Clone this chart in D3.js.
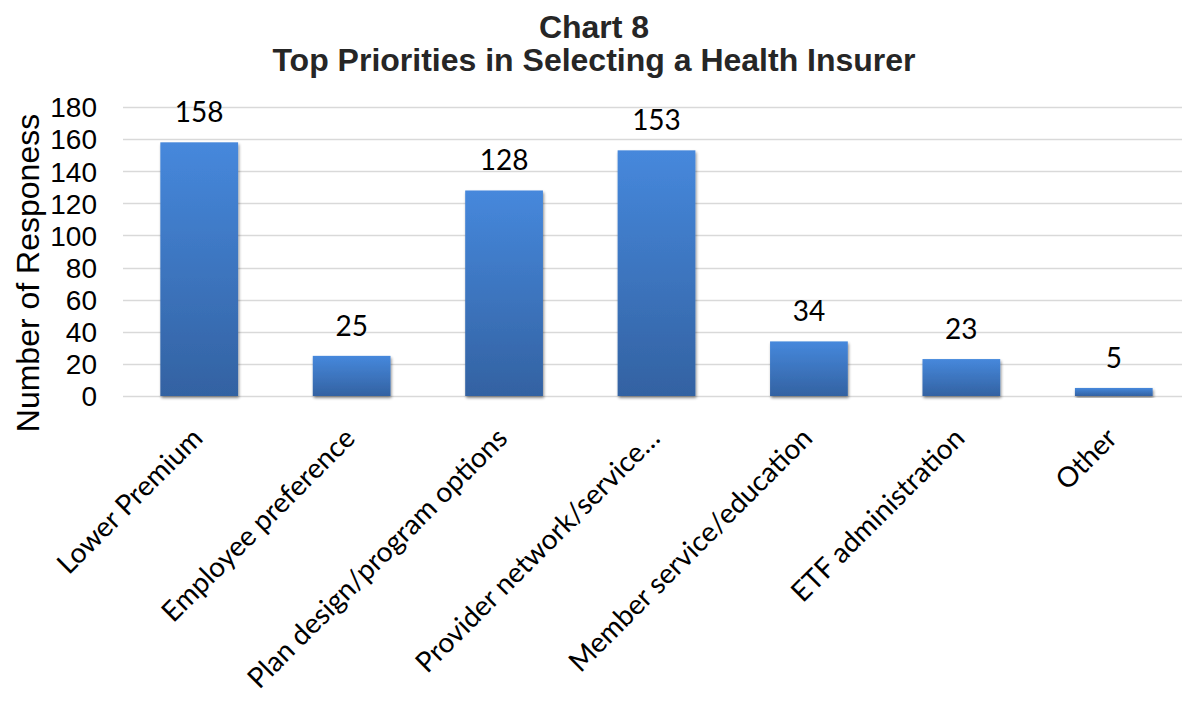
<!DOCTYPE html>
<html>
<head>
<meta charset="utf-8">
<script src="https://cdn.jsdelivr.net/npm/d3@7"></script>
<style>
  html, body { margin: 0; padding: 0; background: #fff; }
  svg { display: block; }
</style>
</head>
<body>
<svg id="chart" width="1182" height="702"></svg>
<script>
// Survey responses: top priorities when selecting a health insurer
const categories = [
  "Lower Premium",
  "Employee preference",
  "Plan design/program options",
  "Provider network/service…",
  "Member service/education",
  "ETF administration",
  "Other"
];
const responses = [158, 25, 128, 153, 34, 23, 5];
const yTicks = [0, 20, 40, 60, 80, 100, 120, 140, 160, 180];

const titleLines = ["Chart 8", "Top Priorities in Selecting a Health Insurer"];
const yAxisTitle = "Number of Responess";

const data = categories.map((c, i) => ({ category: c, value: responses[i] }));

const svg = d3.select("#chart");
const W = 1182, H = 702;
const plot = { left: 123, right: 1190, top: 107, bottom: 396 };

const x = d3.scaleBand()
  .domain(categories)
  .range([plot.left, plot.right])
  .paddingInner(0.49)
  .paddingOuter(0.245);

const y = d3.scaleLinear()
  .domain([0, 180])
  .range([plot.bottom, plot.top]);

// Defs: vertical gradient for bars and a soft shadow
const defs = svg.append("defs");
const grad = defs.append("linearGradient")
  .attr("id", "barGrad")
  .attr("x1", 0).attr("y1", 0).attr("x2", 0).attr("y2", 1);
grad.append("stop").attr("offset", "0%").attr("stop-color", "#4688dc");
grad.append("stop").attr("offset", "100%").attr("stop-color", "#3362a2");

const shadow = defs.append("filter")
  .attr("id", "barShadow")
  .attr("x", "-20%").attr("y", "-20%").attr("width", "140%").attr("height", "140%");
shadow.append("feGaussianBlur").attr("in", "SourceAlpha").attr("stdDeviation", 1.6).attr("result", "blur");
shadow.append("feOffset").attr("in", "blur").attr("dx", 0.5).attr("dy", 1.5).attr("result", "off");
shadow.append("feComponentTransfer").attr("in", "off").attr("result", "soft")
  .append("feFuncA").attr("type", "linear").attr("slope", 0.45);
const merge = shadow.append("feMerge");
merge.append("feMergeNode").attr("in", "soft");
merge.append("feMergeNode").attr("in", "SourceGraphic");

// Horizontal gridlines
svg.append("g")
  .selectAll("line")
  .data(yTicks)
  .join("line")
  .attr("x1", plot.left)
  .attr("x2", W)
  .attr("y1", d => Math.round(y(d)) + 0.5)
  .attr("y2", d => Math.round(y(d)) + 0.5)
  .attr("stroke", "#d9d9d9")
  .attr("stroke-width", 1.6);

// Y axis tick labels
const yAxis = d3.axisLeft(y).tickValues(yTicks).tickSize(0).tickPadding(0);
const yG = svg.append("g")
  .attr("transform", `translate(${97},0)`)
  .call(yAxis);
yG.select(".domain").remove();
yG.selectAll("text")
  .attr("font-family", "'Liberation Sans', Arial, sans-serif")
  .attr("font-size", 28)
  .attr("fill", "#000")
  .attr("dy", "0.35em");

// Y axis title
svg.append("text")
  .attr("transform", `translate(${39},${273}) rotate(-90)`)
  .attr("text-anchor", "middle")
  .attr("font-family", "'Liberation Sans', Arial, sans-serif")
  .attr("font-size", 32)
  .attr("fill", "#000")
  .text(yAxisTitle);

// Bars
svg.append("g")
  .selectAll("rect")
  .data(data)
  .join("rect")
  .attr("x", d => x(d.category))
  .attr("y", d => y(d.value))
  .attr("width", x.bandwidth())
  .attr("height", d => y(0) - y(d.value))
  .attr("fill", "url(#barGrad)")
  .attr("filter", "url(#barShadow)");

// Value labels
svg.append("g")
  .selectAll("text")
  .data(data)
  .join("text")
  .attr("x", d => x(d.category) + x.bandwidth() / 2)
  .attr("y", d => y(d.value) - 20)
  .attr("text-anchor", "middle")
  .attr("font-family", "Lato, 'Open Sans', sans-serif")
  .attr("font-size", 28)
  .attr("fill", "#000")
  .text(d => d.value);

// Category labels, rotated
const xAxis = d3.axisBottom(x).tickSize(0).tickPadding(0);
const xG = svg.append("g")
  .attr("transform", `translate(0,${plot.bottom})`)
  .call(xAxis);
xG.select(".domain").remove();
xG.selectAll("text")
  .attr("font-family", "Lato, 'Open Sans', sans-serif")
  .attr("font-size", 28)
  .attr("fill", "#000")
  .attr("text-anchor", "end")
  .attr("dy", 0)
  .attr("transform", "translate(5,44) rotate(-45)");

// Title
const title = svg.append("text")
  .attr("text-anchor", "middle")
  .attr("font-family", "'Liberation Sans', Arial, sans-serif")
  .attr("font-weight", "bold")
  .attr("font-size", 32)
  .attr("fill", "#262626");
titleLines.forEach((t, i) => {
  title.append("tspan")
    .attr("x", 594)
    .attr("y", 38 + i * 33)
    .text(t);
});
</script>
</body>
</html>
